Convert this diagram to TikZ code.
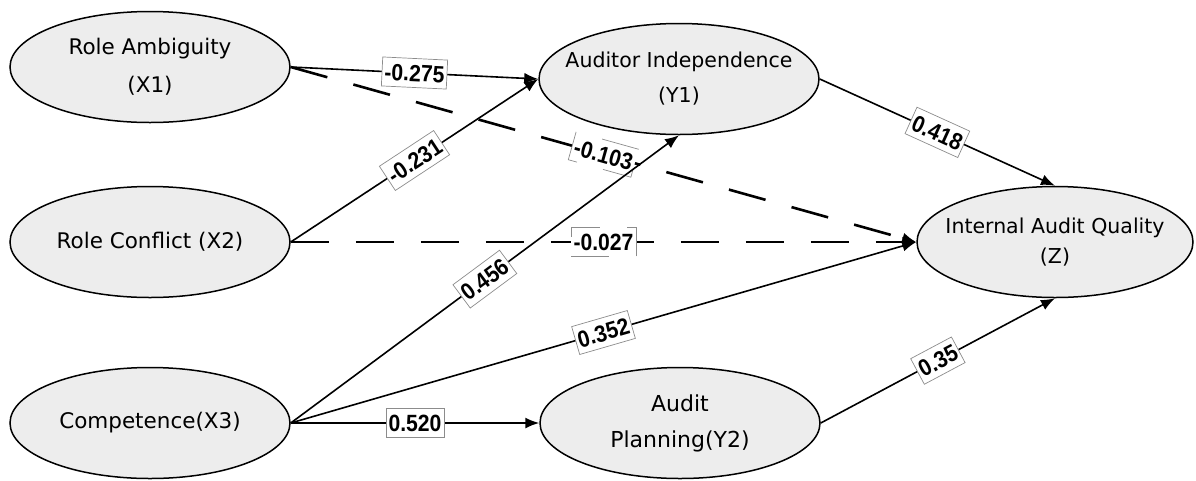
\documentclass[tikz,border=0pt]{standalone}
\usepackage{fontspec}
\setmainfont{DejaVu Sans}
\newfontfamily\lblfont[FakeStretch=0.9]{Liberation Sans}
\usetikzlibrary{shapes.geometric,arrows.meta}
\begin{document}
\begin{tikzpicture}[x=1pt,y=-1pt,
  latent/.style={ellipse, draw, line width=1.5pt, fill=black!7, minimum width=280pt, minimum height=111pt, inner xsep=-50pt, inner ysep=0pt, align=center, font=\fontsize{21.5}{38}\selectfont},
  pth/.style={line width=1.6pt, -{Latex[length=14pt,width=11pt]}},
  dpth/.style={pth, line width=2.6pt, dash pattern=on 38pt off 27pt},
  coef/.style={fill=white, draw=black!45, line width=0.7pt, inner xsep=2.5pt, inner ysep=6pt, text height=17pt, text depth=0pt, sloped, midway, font=\lblfont\bfseries\fontsize{23.5}{23.5}\selectfont}
]
\useasboundingbox (0,0) rectangle (1196,480);
\node[latent] (x1) at (150,67) {Role Ambiguity\\(X1)};
\node[latent] (x2) at (150,242) {Role Conflict (X2)};
\node[latent] (x3) at (150,423) {Competence(X3)};
\node[latent, font=\fontsize{20.5}{35}\selectfont] (y1) at (679,79) {Auditor Independence\\(Y1)};
\node[latent, font=\fontsize{22}{36}\selectfont] (y2) at (680,423) {Audit\\Planning(Y2)};
\node[latent, minimum width=276pt, font=\fontsize{20.5}{30}\selectfont] (z) at (1055,242) {Internal Audit Quality\\(Z)};

\draw[dpth] (x1.east) -- (z.west) node[coef] {-0.103};
\draw[dpth] (x2.east) -- (z.west) node[coef] {-0.027};
\draw[pth] (x1.east) -- (y1.west) node[coef] {-0.275};
\draw[pth] (x2.east) -- (y1.west) node[coef] {-0.231};
\draw[pth] (x3.east) -- (y1.south) node[coef] {0.456};
\draw[pth] (x3.east) -- (z.west) node[coef] {0.352};
\draw[pth] (x3.east) -- (y2.west) node[coef] {0.520};
\draw[pth] (y1.east) -- (z.north) node[coef] {0.418};
\draw[pth] (y2.east) -- (z.south) node[coef] {0.35};
\end{tikzpicture}
\end{document}
